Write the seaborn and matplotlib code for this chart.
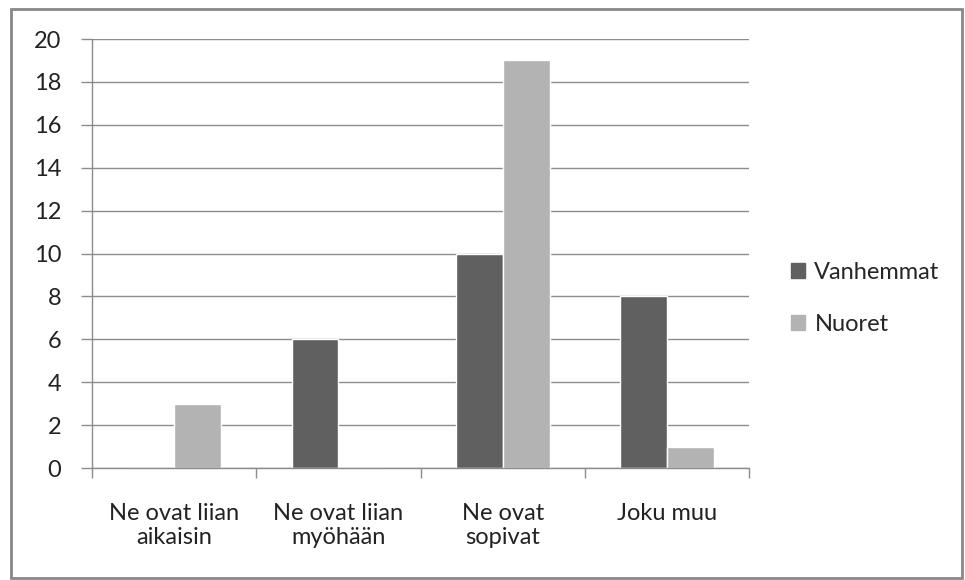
import pandas as pd
import matplotlib.pyplot as plt
import matplotlib.patches as mpatches
import seaborn as sns

categories = ['Ne ovat liian\naikaisin', 'Ne ovat liian\nmyöhään', 'Ne ovat\nsopivat', 'Joku muu']
series = ['Vanhemmat', 'Nuoret']
vanhemmat = [0, 6, 10, 8]
nuoret = [3, 0, 19, 1]
colors = ['#606060', '#b3b3b3']

data = pd.DataFrame({
    'kategoria': categories * 2,
    'ryhma': [series[0]] * 4 + [series[1]] * 4,
    'arvo': vanhemmat + nuoret,
})

sns.set_style('white')
plt.rcParams['font.family'] = ['Lato', 'DejaVu Sans']

fig = plt.figure(figsize=(9.65, 5.8), dpi=100)
ax = fig.add_axes([0.0953, 0.193, 0.681, 0.7397])

sns.barplot(data=data, x='kategoria', y='arvo', hue='ryhma', palette=colors,
            width=0.57, ax=ax, legend=False, saturation=1)

grid_c = '#8c8c8c'
fs = 17
ax.set_ylim(0, 20)
ax.set_xlim(-0.5, 3.5)
ax.set_yticks(range(0, 21, 2))
ax.yaxis.grid(True, color=grid_c, linewidth=1)
ax.set_axisbelow(True)
for s in ['top', 'right']:
    ax.spines[s].set_visible(False)
for s in ['left', 'bottom']:
    ax.spines[s].set_color(grid_c)
    ax.spines[s].set_linewidth(1)

ax.set_xlabel('')
ax.set_ylabel('')
ax.tick_params(axis='y', length=8, color=grid_c, width=1, labelsize=fs, pad=14, left=True)
ax.tick_params(axis='x', which='major', length=0, labelsize=fs, pad=25)
ax.set_xticks([-0.5, 0.5, 1.5, 2.5, 3.5], minor=True)
ax.tick_params(axis='x', which='minor', length=7, color=grid_c, width=1, bottom=True)
for lbl in ax.get_yticklabels() + ax.get_xticklabels():
    lbl.set_color('#222222')
for lbl in ax.get_xticklabels():
    lbl.set_linespacing(1.2)

handles = [mpatches.Patch(color=c, label=s) for c, s in zip(colors, series)]
ax.legend(handles=handles, loc='center left', bbox_to_anchor=(1.049, 0.395), frameon=False,
          fontsize=fs, handlelength=0.6, handleheight=0.6, handletextpad=0.4,
          labelspacing=1.3, borderaxespad=0)

fig.patches.append(mpatches.Rectangle((11 / 965, 2 / 580), 951 / 965, 569 / 580,
                                      transform=fig.transFigure, fill=False,
                                      edgecolor='#888888', linewidth=2))

fig.savefig('out.png', dpi=100)
